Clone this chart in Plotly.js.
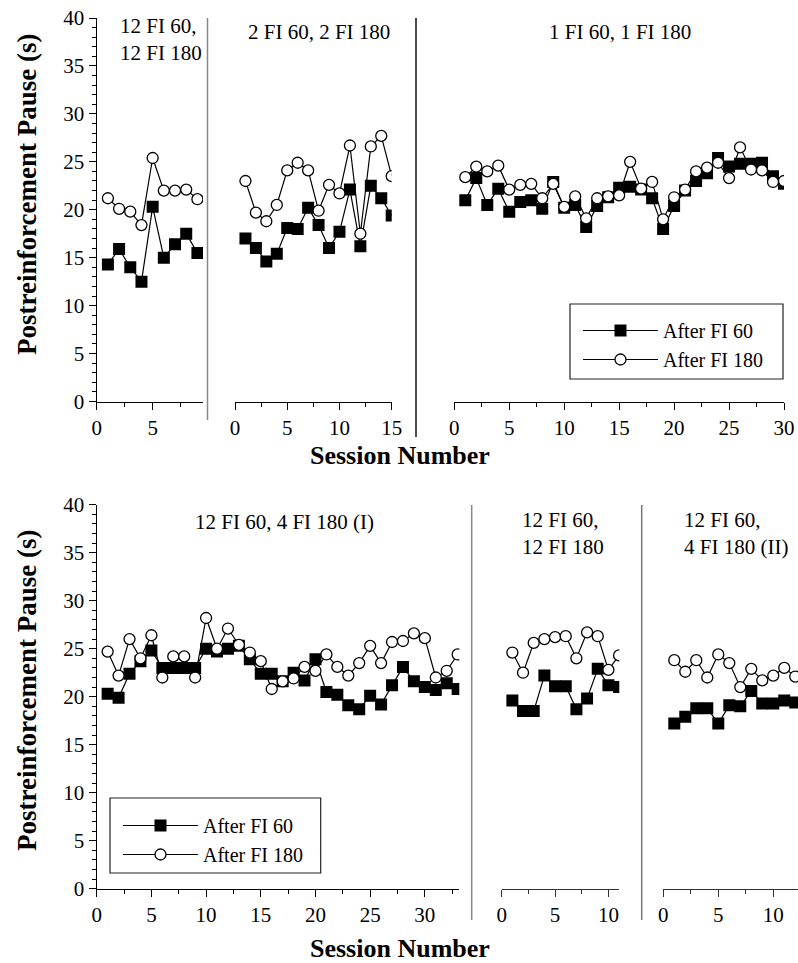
<!DOCTYPE html>
<html>
<head>
<meta charset="utf-8">
<script src="https://cdn.plot.ly/plotly-3.0.1.min.js"></script>
<style>html,body{margin:0;padding:0;background:#fff;}#chart{width:798px;height:963px;}</style>
</head>
<body>
<div id="chart"></div>
<script>
// ---- Data ----
const sessTop1 = [1,2,3,4,5,6,7,8,9];
const top1_fi60  = [14.3,15.9,14.0,12.5,20.3,15.0,16.4,17.5,15.5];
const top1_fi180 = [21.2,20.1,19.8,18.4,25.4,22.0,22.0,22.1,21.1];

const sessTop2 = [1,2,3,4,5,6,7,8,9,10,11,12,13,14,15];
const top2_fi60  = [17.0,16.0,14.6,15.4,18.1,18.0,20.2,18.4,16.0,17.7,22.1,16.2,22.5,21.2,19.4];
const top2_fi180 = [23.0,19.7,18.8,20.5,24.1,24.9,24.1,19.9,22.6,21.7,26.7,17.5,26.6,27.7,23.5];

const sessTop3 = [1,2,3,4,5,6,7,8,9,10,11,12,13,14,15,16,17,18,19,20,21,22,23,24,25,26,27,28,29,30];
const top3_fi60  = [21.0,23.3,20.5,22.2,19.8,20.8,21.0,20.1,22.9,20.2,20.5,18.2,20.4,21.3,22.3,22.4,22.1,21.2,18.0,20.4,22.0,23.0,23.8,25.4,24.5,24.8,24.8,24.9,23.5,22.7];
const top3_fi180 = [23.4,24.5,24.0,24.6,22.1,22.6,22.7,21.2,22.7,20.3,21.4,19.1,21.2,21.4,21.5,25.0,22.2,22.9,19.0,21.3,22.1,24.0,24.4,24.9,23.3,26.5,24.2,24.1,22.9,23.0];

const sessBot1 = [1,2,3,4,5,6,7,8,9,10,11,12,13,14,15,16,17,18,19,20,21,22,23,24,25,26,27,28,29,30,31,32,33];
const bot1_fi60  = [20.3,19.9,22.4,23.7,24.8,23.0,23.0,23.0,23.0,25.0,24.7,25.0,25.3,23.9,22.4,22.4,21.6,22.5,21.7,23.9,20.5,20.2,19.1,18.7,20.1,19.2,21.2,23.1,21.6,21.0,20.7,21.4,20.8];
const bot1_fi180 = [24.7,22.2,26.0,24.0,26.4,22.0,24.2,24.2,22.0,28.2,25.0,27.1,25.4,24.6,23.7,20.8,21.6,21.9,23.1,22.7,24.4,23.1,22.2,23.5,25.3,23.5,25.7,25.8,26.6,26.1,22.0,22.7,24.4];

const sessBot2 = [1,2,3,4,5,6,7,8,9,10,11];
const bot2_fi60  = [19.6,18.5,18.5,22.2,21.1,21.1,18.7,19.8,22.9,21.2,21.0];
const bot2_fi180 = [24.6,22.5,25.6,26.0,26.2,26.3,24.0,26.7,26.3,22.8,24.3];

const sessBot3 = [1,2,3,4,5,6,7,8,9,10,11,12];
const bot3_fi60  = [17.2,17.9,18.8,18.8,17.2,19.1,19.0,20.6,19.3,19.3,19.6,19.4];
const bot3_fi180 = [23.8,22.6,23.8,22.0,24.4,23.5,21.0,22.9,21.7,22.2,23.0,22.1];

const seriesNames = ['After FI 60','After FI 180'];
const panelLabels = ['12 FI 60,<br>12 FI 180','2 FI 60, 2 FI 180','1 FI 60, 1 FI 180',
                     '12 FI 60, 4 FI 180 (I)','12 FI 60,<br>12 FI 180','12 FI 60,<br>4 FI 180 (II)'];
const yTitle = 'Postreinforcement Pause (s)';
const xTitle = 'Session Number';

// ---- Styling ----
const FONT = 'Liberation Serif, Times New Roman, serif';
const W = 798, H = 963;
const px = v => v / W;
const py = v => 1 - v / H;

const sqStyle = {symbol:'square', size:12, color:'#000', line:{width:0}};
const ciStyle = {symbol:'circle', size:11, color:'#fff', line:{width:1.3, color:'#000'}};
const lineStyle = {color:'#000', width:1.2};

const panels = [
  {x:sessTop1, a:top1_fi60, b:top1_fi180, xa:'x',  ya:'y',  leg:null},
  {x:sessTop2, a:top2_fi60, b:top2_fi180, xa:'x2', ya:'y2', leg:null},
  {x:sessTop3, a:top3_fi60, b:top3_fi180, xa:'x3', ya:'y3', leg:'legend'},
  {x:sessBot1, a:bot1_fi60, b:bot1_fi180, xa:'x4', ya:'y4', leg:'legend2'},
  {x:sessBot2, a:bot2_fi60, b:bot2_fi180, xa:'x5', ya:'y5', leg:null},
  {x:sessBot3, a:bot3_fi60, b:bot3_fi180, xa:'x6', ya:'y6', leg:null}
];

const traces = [];
panels.forEach(p => {
  traces.push({x:p.x, y:p.a, xaxis:p.xa, yaxis:p.ya, mode:'lines+markers', name:seriesNames[0],
    marker:sqStyle, line:lineStyle, showlegend:!!p.leg, legend:p.leg || 'legend'});
  traces.push({x:p.x, y:p.b, xaxis:p.xa, yaxis:p.ya, mode:'lines+markers', name:seriesNames[1],
    marker:ciStyle, line:lineStyle, showlegend:!!p.leg, legend:p.leg || 'legend'});
});

const tickFont = {family:FONT, size:21, color:'#000'};
const topY = [py(401.5), py(18)];
const botY = [py(888.7), py(504.7)];

function xAxis(domain, range, anchor, lineColor) {
  const c = lineColor || '#000';
  return {domain:domain, range:range, anchor:anchor, showline:true, linecolor:c, linewidth:1.2,
    ticks:'outside', ticklen:7, tickwidth:1, tickcolor:c, dtick:5, tick0:0,
    minor:{ticks:'outside', ticklen:4, dtick:2.5, tickcolor:c},
    showgrid:false, zeroline:false, tickfont:tickFont, fixedrange:true};
}
function yMain(domain, anchor) {
  return {domain:domain, range:[0,40], anchor:anchor, showline:true, linecolor:'#000', linewidth:1.2,
    ticks:'outside', ticklen:7, tickwidth:1, tickcolor:'#000', dtick:5, tick0:0,
    minor:{ticks:'outside', ticklen:4, dtick:1, tickcolor:'#000'},
    showgrid:false, zeroline:false, tickfont:tickFont, fixedrange:true};
}
function yHidden(domain, anchor) {
  return {domain:domain, range:[0,40], anchor:anchor, visible:false, fixedrange:true};
}

const annFont = {family:FONT, size:21, color:'#000'};
const annotations = [
  {text:panelLabels[0], x:px(118), y:py(40), xanchor:'left', yanchor:'middle', align:'left'},
  {text:panelLabels[1], x:px(319), y:py(32), xanchor:'center', yanchor:'middle'},
  {text:panelLabels[2], x:px(620), y:py(32), xanchor:'center', yanchor:'middle'},
  {text:panelLabels[3], x:px(284), y:py(522), xanchor:'center', yanchor:'middle'},
  {text:panelLabels[4], x:px(520), y:py(533), xanchor:'left', yanchor:'middle', align:'left'},
  {text:panelLabels[5], x:px(682), y:py(533), xanchor:'left', yanchor:'middle', align:'left'},
].map(a => Object.assign({xref:'paper', yref:'paper', showarrow:false, font:annFont}, a));

const titleFontY = {family:FONT, size:27, color:'#000', weight:'bold'};
const titleFontX = {family:FONT, size:26, color:'#000', weight:'bold'};
annotations.push(
  {text:'<b>'+yTitle+'</b>', x:px(27), y:py(195), textangle:-90, font:titleFontY},
  {text:'<b>'+yTitle+'</b>', x:px(27), y:py(691), textangle:-90, font:titleFontY},
  {text:'<b>'+xTitle+'</b>', x:px(400), y:py(455), font:titleFontX},
  {text:'<b>'+xTitle+'</b>', x:px(400), y:py(948), font:titleFontX}
);
annotations.forEach(a => { if (!a.xref) Object.assign(a, {xref:'paper', yref:'paper', showarrow:false, xanchor:'center', yanchor:'middle'}); });

const shapes = [
  {type:'line', xref:'paper', yref:'paper', x0:px(207.5), x1:px(207.5), y0:py(420), y1:py(18), line:{color:'#888', width:1.5}},
  {type:'line', xref:'paper', yref:'paper', x0:px(416), x1:px(416), y0:py(437), y1:py(18), line:{color:'#111', width:1.5}},
  {type:'line', xref:'paper', yref:'paper', x0:px(471.7), x1:px(471.7), y0:py(920), y1:py(505), line:{color:'#888', width:1.5}},
  {type:'line', xref:'paper', yref:'paper', x0:px(641.7), x1:px(641.7), y0:py(920), y1:py(505), line:{color:'#777', width:1.5}},
  {type:'rect', xref:'paper', yref:'paper', x0:px(570), x1:px(783), y0:py(379), y1:py(304), line:{color:'#222', width:1.2}},
  {type:'rect', xref:'paper', yref:'paper', x0:px(110), x1:px(320.7), y0:py(873), y1:py(798), line:{color:'#222', width:1.2}}
];

const legendFont = {family:FONT, size:20, color:'#000'};
const layout = {
  width:W, height:H, margin:{l:0, r:0, t:0, b:0},
  paper_bgcolor:'#fff', plot_bgcolor:'rgba(0,0,0,0)',
  font:{family:FONT, color:'#000'},
  xaxis:  xAxis([px(96.7), px(203)], [0, 9.5], 'y'),
  xaxis2: xAxis([px(235), px(391.7)], [0, 15], 'y2'),
  xaxis3: xAxis([px(454.3), px(784)], [0, 30], 'y3'),
  xaxis4: xAxis([px(96.7), px(459.3)], [0, 33.15], 'y4'),
  xaxis5: xAxis([px(501.7), px(619.3)], [0, 11.02], 'y5', '#333'),
  xaxis6: xAxis([px(663.3), 1], [0, 12.25], 'y6', '#333'),
  yaxis:  yMain(topY, 'x'),
  yaxis2: yHidden(topY, 'x2'),
  yaxis3: yHidden(topY, 'x3'),
  yaxis4: yMain(botY, 'x4'),
  yaxis5: yHidden(botY, 'x5'),
  yaxis6: yHidden(botY, 'x6'),
  showlegend:true,
  legend: {x:px(578), y:py(311), xanchor:'left', yanchor:'top', bgcolor:'rgba(0,0,0,0)', borderwidth:0,
           font:legendFont, tracegroupgap:0, itemwidth:75},
  legend2:{x:px(118), y:py(806), xanchor:'left', yanchor:'top', bgcolor:'rgba(0,0,0,0)', borderwidth:0,
           font:legendFont, tracegroupgap:0, itemwidth:75},
  annotations:annotations,
  shapes:shapes
};

Plotly.newPlot('chart', traces, layout, {staticPlot:true, displayModeBar:false});
</script>
</body>
</html>
